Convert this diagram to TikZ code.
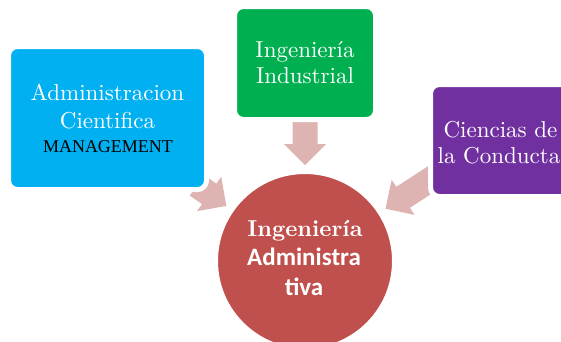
\documentclass[tikz,border=0pt]{standalone}
\usepackage{fontspec}
\newfontfamily\boxfont{lmroman10-regular.otf}[BoldFont=lmroman10-bold.otf]
\newfontfamily\mgmtfont{Liberation Serif}
\newfontfamily\circsans{Carlito}
\usetikzlibrary{calc}
\definecolor{cblue}{HTML}{00B0F0}
\definecolor{cgreen}{HTML}{00B050}
\definecolor{cpurple}{HTML}{7030A0}
\definecolor{ccirc}{HTML}{C0504D}
\definecolor{cpink}{HTML}{DEB4B3}
\begin{document}
\begin{tikzpicture}[x=1pt,y=-1pt,
  box/.style={draw=white, line width=5pt, rounded corners=9pt, inner sep=0pt},
  lbl/.style={anchor=base, inner sep=0pt, text=white, font=\boxfont\fontsize{23}{27}\selectfont},
  blockarrow/.style={fill=cpink, draw=none}]
\useasboundingbox (0,0) rectangle (561,341);
\clip (0,0) rectangle (561,341);
% centre of the circle and arrow tips
\coordinate (cc) at (305,261);
\coordinate (tipT) at ($(cc)+(270:96)$);
\coordinate (tipL) at ($(cc)+(215:96)$);
\coordinate (tipR) at ($(cc)+(327:96)$);
% block arrows
\begin{scope}[shift={(tipT)}, rotate=-90]
  \fill[blockarrow] (0,0) -- (-21,21) -- (-21,12.5) -- (-43,12.5) -- (-43,-12.5) -- (-21,-12.5) -- (-21,-21) -- cycle;
\end{scope}
\begin{scope}[shift={(tipL)}, rotate=-35]
  \fill[blockarrow] (0,0) -- (-21,21) -- (-21,12.5) -- (-36,12.5) -- (-36,-12.5) -- (-21,-12.5) -- (-21,-21) -- cycle;
\end{scope}
\begin{scope}[shift={(tipR)}, rotate=-147]
  \fill[blockarrow] (0,0) -- (-21,21) -- (-21,12.5) -- (-70,12.5) -- (-70,-12.5) -- (-21,-12.5) -- (-21,-21) -- cycle;
\end{scope}
% boxes
\node[box, fill=cblue, minimum width=198pt, minimum height=143pt] (adm) at (107.5,118) {};
\node[box, fill=cgreen, minimum width=141pt, minimum height=113pt] (ind) at (305,63) {};
\node[box, fill=cpurple, minimum width=144pt, minimum height=112pt] (cond) at (502.5,140.5) {};
\node[draw=white, line width=3pt, circle, fill=ccirc, minimum size=177pt, inner sep=0pt] (ing) at (cc) {};
% texts
\node[lbl] (adm1) at (107.5,100) {Administracion};
\node[lbl] (adm2) at (107.5,128) {Cientifica};
\node[lbl, text=black, font=\mgmtfont\fontsize{18}{20}\selectfont] (adm3) at (108,152) {MANAGEMENT};
\node[lbl] (ind1) at (305,57) {Ingeniería};
\node[lbl] (ind2) at (305,83) {Industrial};
\node[lbl] (cond1) at (500.5,137) {Ciencias de};
\node[lbl] (cond2) at (499,163) {la Conducta};
\node[lbl, font=\boxfont\bfseries\fontsize{23}{27}\selectfont] (ing1) at (305,236) {Ingeniería};
\node[lbl, font=\circsans\bfseries\fontsize{25}{29}\selectfont] (ing2) at (304,265) {Administra};
\node[lbl, font=\circsans\bfseries\fontsize{25}{29}\selectfont] (ing3) at (304,295) {tiva};
\end{tikzpicture}
\end{document}
